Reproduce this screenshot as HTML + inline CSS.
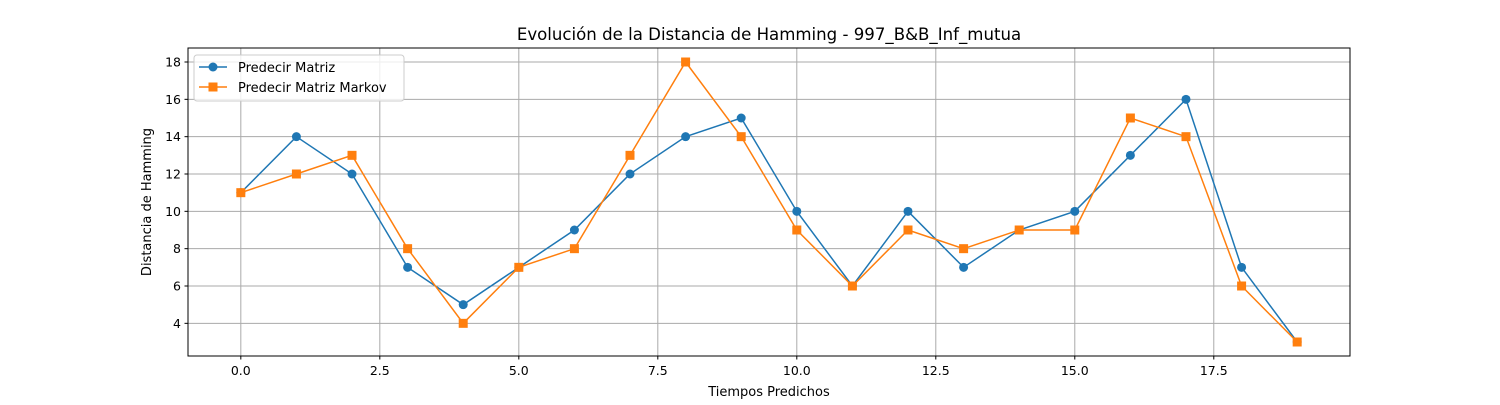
<!DOCTYPE html>
<html><head><meta charset="utf-8"><style>
body{margin:0;background:#fff;font-family:"Liberation Sans","DejaVu Sans",sans-serif;}
svg text{font-family:"DejaVu Sans","Liberation Sans",sans-serif;}
</style></head><body>
<svg id="chart" width="1500" height="400" xmlns="http://www.w3.org/2000/svg">
<rect x="0" y="0" width="1500" height="400" fill="#fff"/>
<g id="grid"></g><g id="axes"></g><g id="series"></g>
<rect x="188" y="48" width="1162" height="308" fill="none" stroke="#000" stroke-width="1"/>
<text x="769" y="40" text-anchor="middle" font-size="16.6">Evolución de la Distancia de Hamming - 997_B&amp;B_Inf_mutua</text>
<text x="769" y="396" text-anchor="middle" font-size="13">Tiempos Predichos</text>
<text transform="translate(151,202) rotate(-90)" text-anchor="middle" font-size="13">Distancia de Hamming</text>
<g>
<rect x="194" y="55" width="210" height="46" fill="#fff" fill-opacity="0.8" stroke="#ccc" rx="3"/>
<g>
<line x1="199" y1="67" x2="227" y2="67" stroke="#1f77b4" stroke-width="1.5"/><circle cx="213" cy="67" r="4.5" fill="#1f77b4"/>
<text x="238" y="72" font-size="13">Predecir Matriz</text></g>
<g>
<line x1="199" y1="87" x2="227" y2="87" stroke="#ff7f0e" stroke-width="1.5"/><rect x="208.5" y="82.5" width="9" height="9" fill="#ff7f0e"/>
<text x="238" y="92" font-size="13">Predecir Matriz Markov</text></g>
</g>
</svg>
<script>
const steps=[0,1,2,3,4,5,6,7,8,9,10,11,12,13,14,15,16,17,18,19];
const matriz=[11,14,12,7,5,7,9,12,14,15,10,6,10,7,9,10,13,16,7,3];
const markov=[11,12,13,8,4,7,8,13,18,14,9,6,9,8,9,9,15,14,6,3];
const xTicks=[0,2.5,5,7.5,10,12.5,15,17.5];
const xTickLabels=["0.0","2.5","5.0","7.5","10.0","12.5","15.0","17.5"];
const yTicks=[4,6,8,10,12,14,16,18];
const NS="http://www.w3.org/2000/svg";
const L=188,R=1350,T=48,B=356;
const xmin=-0.95,xmax=19.95,ymin=2.25,ymax=18.75;
const X=v=>L+(v-xmin)/(xmax-xmin)*(R-L);
const Y=v=>B-(v-ymin)/(ymax-ymin)*(B-T);
function mk(tag,attrs,parent){const e=document.createElementNS(NS,tag);for(const k in attrs)e.setAttribute(k,attrs[k]);parent.appendChild(e);return e;}
const grid=document.getElementById('grid'),axes=document.getElementById('axes'),ser=document.getElementById('series');
xTicks.forEach((t,i)=>{const x=X(t);
 const g=mk('line',{x1:x,x2:x,y1:T,y2:B,stroke:'#aaaaaa','stroke-width':1},grid);
 
 
 mk('line',{x1:x,x2:x,y1:B,y2:B+3.5,stroke:'#000'},axes);
 const tx=mk('text',{x:x,y:B+19,'text-anchor':'middle','font-size':12.5},axes);tx.textContent=xTickLabels[i];
 
 });
yTicks.forEach(t=>{const y=Y(t);
 const g=mk('line',{x1:L,x2:R,y1:y,y2:y,stroke:'#aaaaaa','stroke-width':1},grid);
 
 
 mk('line',{x1:L-3.5,x2:L,y1:y,y2:y,stroke:'#000'},axes);
 const tx=mk('text',{x:L-7,y:y+4.5,'text-anchor':'end','font-size':12.5},axes);tx.textContent=String(t);
 
 });
function series(vals,color,marker,name){
 const p=mk('polyline',{points:vals.map((v,i)=>X(steps[i])+','+Y(v)).join(' '),fill:'none',stroke:color,'stroke-width':1.5},ser);
 
 
 vals.forEach((v,i)=>{let m;
  if(marker==='o')m=mk('circle',{cx:X(steps[i]),cy:Y(v),r:4.5,fill:color},ser);
  else m=mk('rect',{x:X(steps[i])-4.5,y:Y(v)-4.5,width:9,height:9,fill:color},ser);
  
  });
}
series(matriz,'#1f77b4','o','matriz');
series(markov,'#ff7f0e','s','markov');
</script>
</body></html>
